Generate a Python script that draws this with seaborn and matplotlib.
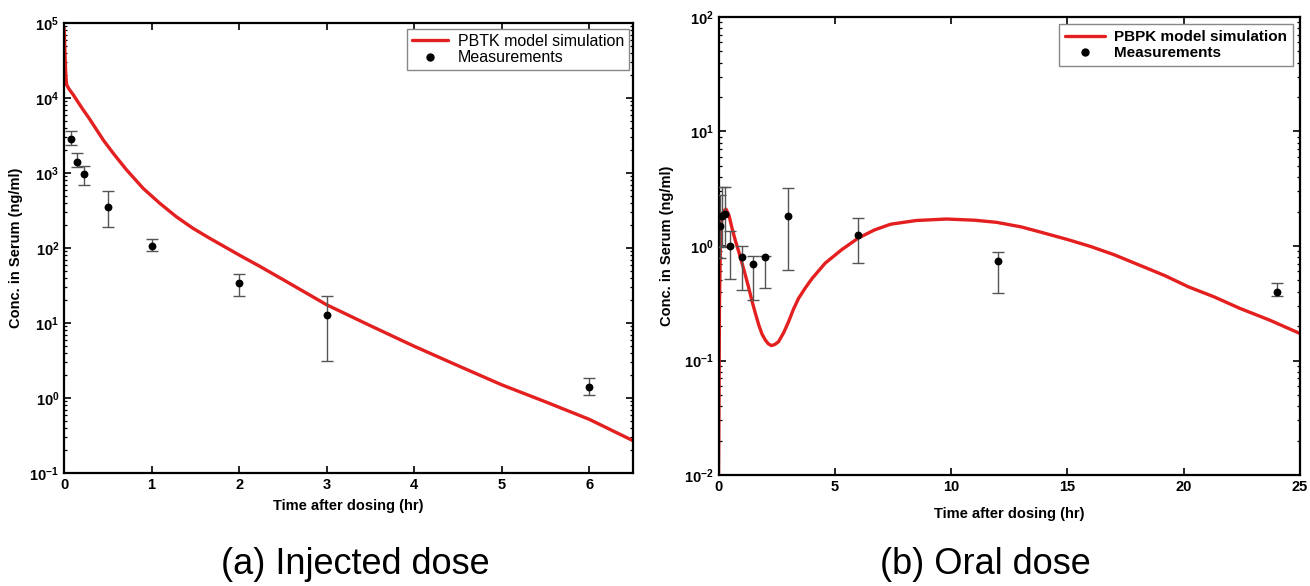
import matplotlib
matplotlib.use("Agg")
import matplotlib.pyplot as plt
import seaborn as sns
import numpy as np
import pandas as pd
from matplotlib.lines import Line2D
from matplotlib.ticker import LogLocator, NullFormatter, FixedLocator

# ── (a) Injected dose ─────────────────────────────────────────
inj_sim_t = [0.0, 0.005, 0.01, 0.02, 0.03, 0.06, 0.106, 0.16, 0.22, 0.28, 0.334,
             0.39, 0.448, 0.562, 0.714, 0.903, 1.093, 1.283, 1.473, 1.663, 1.853,
             2.04, 2.23, 2.5, 3.0, 3.5, 4.0, 4.5, 5.0, 5.5, 6.0, 6.5]
inj_sim_c = [85000, 60000, 40000, 20000, 14900, 13000, 11000, 8800, 6900, 5500, 4400,
             3500, 2750, 1830, 1100, 625, 395, 261, 183, 135, 101,
             76, 57.5, 38, 17.5, 9.2, 4.9, 2.7, 1.5, 0.89, 0.52, 0.27]

inj_t  = [0.08, 0.15, 0.23, 0.5, 1.0, 2.0, 3.0, 6.0]
inj_c  = [2810, 1400, 970, 355, 106, 34, 12.6, 1.42]
inj_lo = [2330, 1210, 700, 189, 91, 23, 3.15, 1.1]
inj_hi = [3630, 1860, 1240, 580, 132, 45, 23, 1.85]

# ── (b) Oral dose ─────────────────────────────────────────────
oral_sim_t = [0.0, 0.02, 0.04, 0.08, 0.15, 0.22, 0.32, 0.45, 0.58, 0.72, 0.87, 1.0,
              1.15, 1.3, 1.44, 1.58, 1.73, 1.87, 2.01, 2.14, 2.27, 2.42, 2.58, 2.8,
              3.01, 3.22, 3.44, 3.73, 4.02, 4.59, 5.3, 6.0, 6.7, 7.4, 8.5, 9.8,
              11.0, 11.95, 13.0, 13.8, 15.0, 16.0, 17.0, 18.1, 19.2, 20.2, 21.3,
              22.4, 23.7, 25.0]
oral_sim_c = [0.01, 0.05, 0.3, 1.1, 1.86, 2.02, 2.1, 1.85, 1.43, 1.12, 0.89, 0.72,
              0.56, 0.43, 0.33, 0.26, 0.204, 0.17, 0.151, 0.14, 0.135, 0.138, 0.146, 0.175,
              0.218, 0.28, 0.349, 0.43, 0.52, 0.71, 0.93, 1.17, 1.38, 1.55, 1.67, 1.72,
              1.68, 1.61, 1.47, 1.33, 1.14, 0.99, 0.84, 0.68, 0.55, 0.44, 0.36,
              0.286, 0.225, 0.172]

oral_t  = [0.08, 0.15, 0.27, 0.5, 1.0, 1.5, 2.0, 3.0, 6.0, 12.0, 24.0]
oral_c  = [1.5, 1.84, 1.89, 1.0, 0.80, 0.70, 0.80, 1.84, 1.25, 0.744, 0.40]
oral_lo = [0.79, 0.99, 1.0, 0.51, 0.41, 0.34, 0.43, 0.62, 0.715, 0.386, 0.368]
oral_hi = [2.8, 3.3, 3.3, 1.35, 1.0, 0.81, 0.81, 3.19, 1.75, 0.89, 0.478]

RED, GREY = "#e41f1f", "#555555"

sns.set_theme(style="ticks", rc={"text.color": "black", "axes.labelcolor": "black",
                                 "xtick.color": "black", "ytick.color": "black"})
plt.rcParams["font.family"] = ["Liberation Sans", "DejaVu Sans"]
plt.rcParams["font.weight"] = "bold"
plt.rcParams["mathtext.fontset"] = "custom"
plt.rcParams["mathtext.rm"] = "Liberation Sans:bold"
plt.rcParams["mathtext.default"] = "rm"

fig = plt.figure(figsize=(13.1, 5.86), dpi=100)
ax1 = fig.add_axes([0.0489, 0.1928, 0.4343, 0.768])
ax2 = fig.add_axes([0.5485, 0.1894, 0.4439, 0.7816])


def draw(ax, sim_t, sim_c, t, c, lo, hi, sim_label):
    sim = pd.DataFrame({"t": sim_t, "c": sim_c})
    sns.lineplot(data=sim, x="t", y="c", ax=ax, color=RED, linewidth=2.4, sort=False)
    c = np.array(c)
    yerr = [c - np.array(lo), np.array(hi) - c]
    ax.errorbar(t, c, yerr=yerr, fmt="none", ecolor=GREY, elinewidth=1,
                capsize=4, capthick=1, zorder=3)
    sns.scatterplot(x=t, y=c, ax=ax, color="black", s=32, edgecolor="black",
                    linewidth=0, zorder=4)
    ax.set_yscale("log")
    ax.yaxis.set_minor_locator(LogLocator(base=10, subs=np.arange(2, 10), numticks=20))
    ax.yaxis.set_minor_formatter(NullFormatter())
    ax.tick_params(which="both", direction="in", top=True, right=True,
                   labelsize=10.5, colors="black")
    ax.tick_params(which="major", length=5, width=1.2)
    ax.tick_params(which="minor", length=2.5, width=0.9)
    ax.tick_params(axis="x", which="minor", bottom=False, top=False)
    for s in ax.spines.values():
        s.set_linewidth(1.6)
        s.set_color("black")
    ax.set_ylabel("Conc. in Serum (ng/ml)", fontsize=10.5, fontweight="bold")
    ax.set_xlabel("Time after dosing (hr)", fontsize=10.5, fontweight="bold")
    return [Line2D([], [], color=RED, lw=2.4, label=sim_label),
            Line2D([], [], color="black", marker="o", ms=5, ls="none",
                   label="Measurements")]


h1 = draw(ax1, inj_sim_t, inj_sim_c, inj_t, inj_c, inj_lo, inj_hi,
          "PBTK model simulation")
ax1.set_xlim(0, 6.5)
ax1.set_ylim(1e-1, 1e5)
ax1.xaxis.set_major_locator(FixedLocator([0, 1, 2, 3, 4, 5, 6]))
ax1.yaxis.set_label_coords(-0.072, 0.5)
ax1.xaxis.set_label_coords(0.5, -0.058)
ax1.legend(handles=h1, loc="upper right", bbox_to_anchor=(0.993, 0.987),
           borderaxespad=0, fancybox=False, framealpha=1, edgecolor="#888888",
           prop={"size": 11.5, "weight": "normal"}, handlelength=2.3,
           borderpad=0.3, labelspacing=0.1, handletextpad=0.6)

h2 = draw(ax2, oral_sim_t, oral_sim_c, oral_t, oral_c, oral_lo, oral_hi,
          "PBPK model simulation")
ax2.set_xlim(0, 25)
ax2.set_ylim(1e-2, 1e2)
ax2.xaxis.set_major_locator(FixedLocator([0, 5, 10, 15, 20, 25]))
ax2.yaxis.set_label_coords(-0.077, 0.5)
ax2.xaxis.set_label_coords(0.5, -0.07)
ax2.legend(handles=h2, loc="upper right", bbox_to_anchor=(0.988, 0.985),
           borderaxespad=0, fancybox=False, framealpha=1, edgecolor="#888888",
           prop={"size": 11, "weight": "bold"}, handlelength=2.6,
           borderpad=0.4, labelspacing=0.15, handletextpad=0.6)

fig.text(355 / 1310, 1 - 565 / 586, "(a) Injected dose", ha="center", va="center",
         fontsize=26, fontweight="normal")
fig.text(985 / 1310, 1 - 565 / 586, "(b) Oral dose", ha="center", va="center",
         fontsize=26, fontweight="normal")

fig.savefig("out.png", dpi=100)
